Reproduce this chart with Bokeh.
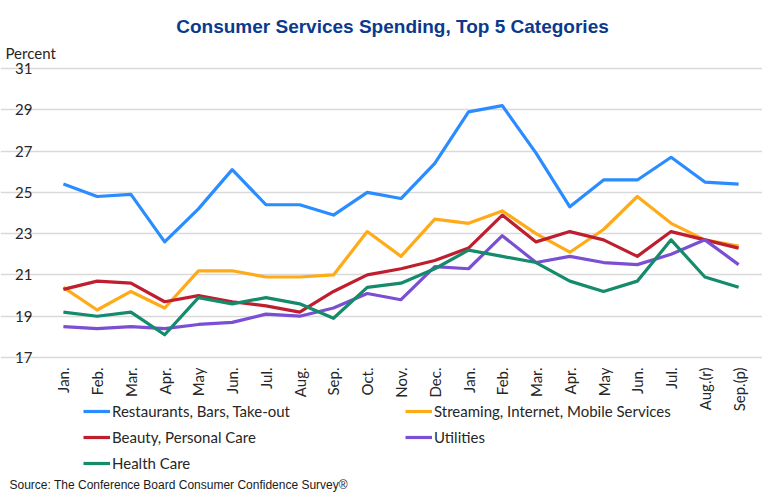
import math
from bokeh.plotting import figure
from bokeh.models import Legend, LegendItem, Label, FixedTicker, Range1d
from bokeh.embed import file_html
from bokeh.resources import INLINE

months = ["Jan.", "Feb.", "Mar.", "Apr.", "May", "Jun.", "Jul.", "Aug.", "Sep.", "Oct.", "Nov.", "Dec.",
          "Jan.", "Feb.", "Mar.", "Apr.", "May", "Jun.", "Jul.", "Aug.(r)", "Sep.(p)"]

restaurants = [25.4, 24.8, 24.9, 22.6, 24.2, 26.1, 24.4, 24.4, 23.9, 25.0, 24.7, 26.4,
               28.9, 29.2, 26.9, 24.3, 25.6, 25.6, 26.7, 25.5, 25.4]
streaming = [20.4, 19.3, 20.2, 19.4, 21.2, 21.2, 20.9, 20.9, 21.0, 23.1, 21.9, 23.7,
             23.5, 24.1, 23.0, 22.1, 23.2, 24.8, 23.5, 22.7, 22.4]
beauty = [20.3, 20.7, 20.6, 19.7, 20.0, 19.7, 19.5, 19.2, 20.2, 21.0, 21.3, 21.7,
          22.3, 23.9, 22.6, 23.1, 22.7, 21.9, 23.1, 22.7, 22.3]
utilities = [18.5, 18.4, 18.5, 18.4, 18.6, 18.7, 19.1, 19.0, 19.4, 20.1, 19.8, 21.4,
             21.3, 22.9, 21.6, 21.9, 21.6, 21.5, 22.0, 22.7, 21.5]
health = [19.2, 19.0, 19.2, 18.1, 19.9, 19.6, 19.9, 19.6, 18.9, 20.4, 20.6, 21.3,
          22.2, 21.9, 21.6, 20.7, 20.2, 20.7, 22.7, 20.9, 20.4]

series_names = ["Restaurants, Bars, Take-out", "Streaming, Internet, Mobile Services",
                "Beauty, Personal Care", "Utilities", "Health Care"]
series_values = [restaurants, streaming, beauty, utilities, health]
series_colors = ["#2A8CFF", "#FFAA17", "#BF1E2E", "#7B4FD3", "#148B6B"]

y_ticks = [17, 19, 21, 23, 25, 27, 29, 31]
y_min, y_max = 17, 31

x = list(range(len(months)))

# plotting area (in px of the canvas) and its data extent
W, H = 762, 492
plot_left, plot_right, plot_top, plot_bottom = 45, 755, 68, 357
x_lo, x_hi = -0.53, 20.5
px_per_x = (plot_right - plot_left) / (x_hi - x_lo)
px_per_y = (plot_bottom - plot_top) / (y_max - y_min)
x_range = Range1d(x_lo - plot_left / px_per_x, x_hi + (W - plot_right) / px_per_x)
y_range = Range1d(y_min - (H - plot_bottom) / px_per_y, y_max + plot_top / px_per_y)

p = figure(width=W, height=H, output_backend="svg", toolbar_location=None,
           min_border=0, x_range=x_range, y_range=y_range)
p.outline_line_color = None
p.background_fill_color = "white"
p.border_fill_color = "white"

tick_font = "Lato"
p.xaxis.ticker = FixedTicker(ticks=x)
p.xaxis.major_label_overrides = {i: m for i, m in enumerate(months)}
p.xaxis.major_label_orientation = math.pi / 2
p.xaxis.fixed_location = y_min
p.yaxis.ticker = FixedTicker(ticks=y_ticks)
p.yaxis.fixed_location = x_lo
for ax in (p.xaxis, p.yaxis):
    ax.axis_line_color = None
    ax.major_tick_line_color = None
    ax.minor_tick_line_color = None
    ax.major_tick_out = 0
    ax.major_tick_in = 0
    ax.major_label_text_font = tick_font
    ax.major_label_text_font_size = "15px"
    ax.major_label_text_color = "#262626"
p.xaxis.major_label_standoff = 10
p.yaxis.major_label_standoff = 13

p.xgrid.grid_line_color = None
p.ygrid.grid_line_color = "#D9D9D9"
p.ygrid.grid_line_width = 1.3
p.ygrid.ticker = FixedTicker(ticks=y_ticks)
p.ygrid.bounds = (x_lo, x_hi)

items = []
for name, vals, col in zip(series_names, series_values, series_colors):
    r = p.line(x, vals, line_color=col, line_width=3.2, line_join="round")
    items.append(LegendItem(label=name, renderers=[r]))

legend = Legend(items=items, orientation="horizontal", ncols=2,
                location=(83, 16), padding=0, margin=0, spacing=0,
                glyph_width=27, glyph_height=26, label_height=26, label_width=293,
                label_standoff=2, border_line_color=None, background_fill_alpha=0,
                label_text_font=tick_font, label_text_font_size="15px",
                label_text_color="#262626")
p.add_layout(legend, "center")

title = Label(x=392, y=H - 26, x_units="screen", y_units="screen",
              text="Consumer Services Spending, Top 5 Categories",
              text_align="center", text_baseline="middle",
              text_font="Liberation Sans", text_font_style="bold",
              text_font_size="19px", text_color="#0A3A8E")
p.add_layout(title)

ylabel = Label(x=5, y=H - 52, x_units="screen", y_units="screen", text="Percent",
               text_align="left", text_baseline="middle", text_font=tick_font,
               text_font_size="15px", text_color="#262626")
p.add_layout(ylabel)

source = Label(x=9, y=H - 484, x_units="screen", y_units="screen",
               text="Source: The Conference Board Consumer Confidence Survey\u00ae",
               text_align="left", text_baseline="middle", text_font="Liberation Sans",
               text_font_size="12px", text_color="#1A1A1A")
p.add_layout(source)

open("out.html", "w").write(file_html(p, INLINE))
